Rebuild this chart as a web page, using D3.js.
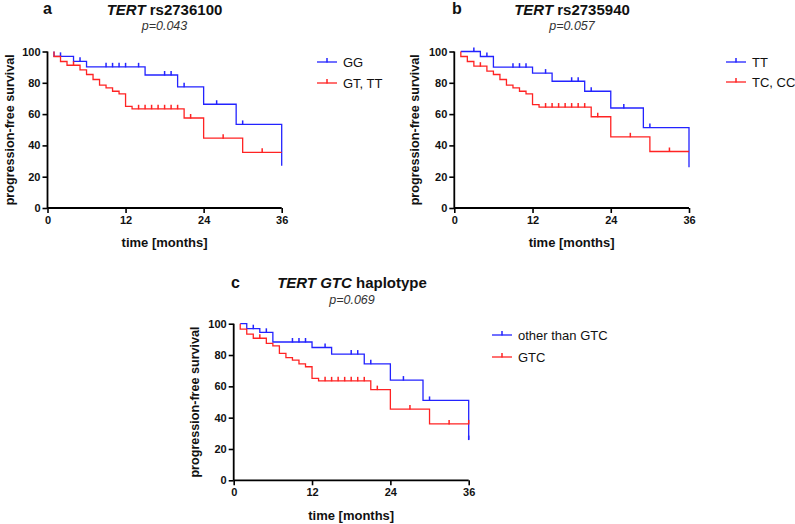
<!DOCTYPE html>
<html>
<head>
<meta charset="utf-8">
<script src="https://cdn.jsdelivr.net/npm/d3@7"></script>
<style>
  html, body { margin: 0; padding: 0; background: #fff; }
  text { font-family: "Liberation Sans", Arial, sans-serif; }
</style>
</head>
<body>
<svg id="chart" width="795" height="524"></svg>
<script>
// ---------- data ----------
const timeTicks = [0, 12, 24, 36];
const survTicks = [0, 20, 40, 60, 80, 100];
const startTime = 1;
const endTime = 36;

// Panel a: TERT rs2736100
const aBlueLabel = "GG";
const aBlueEventT = [1, 4, 6, 15, 20, 24, 29, 36];
const aBlueEventS = [96.9, 93.7, 90.2, 85.0, 77.4, 66.3, 53.4, 27.0];
const aBlueCensT = [2, 5, 9, 10, 11, 12, 14, 18, 19, 21, 26, 30];
const aRedLabel = "GT, TT";
const aRedEventT = [1, 2, 3, 5, 6, 7, 8, 9, 10, 11, 12, 13, 21, 24, 30];
const aRedEventS = [96.8, 93.6, 91.2, 88.3, 85.3, 82.1, 78.5, 76.8, 74.6, 72.9, 65.0, 63.4, 57.5, 44.6, 35.6];
const aRedCensT = [4, 14, 15, 16, 17, 18, 19, 20, 22, 27, 33];

// Panel b: TERT rs2735940
const bBlueLabel = "TT";
const bBlueEventT = [4, 6, 12, 15, 20, 24, 29, 36];
const bBlueEventS = [96.8, 90.0, 86.2, 81.0, 74.6, 63.9, 51.4, 26.0];
const bBlueCensT = [3, 5, 9, 10, 11, 14, 18, 19, 21, 26, 30];
const bRedLabel = "TC, CC";
const bRedEventT = [1, 2, 3, 5, 6, 7, 8, 9, 10, 11, 12, 13, 21, 24, 30];
const bRedEventS = [96.8, 93.6, 90.6, 87.4, 85.3, 82.1, 78.5, 76.8, 74.6, 72.9, 66.1, 64.5, 58.3, 45.5, 36.1];
const bRedCensT = [4, 14, 15, 16, 17, 18, 19, 20, 22, 27, 33];

// Panel c: TERT GTC haplotype
const cBlueLabel = "other than GTC";
const cBlueEventT = [2, 4, 6, 12, 15, 20, 24, 29, 36];
const cBlueEventS = [96.8, 94.5, 88.3, 84.8, 80.6, 74.4, 64.0, 51.0, 26.0];
const cBlueCensT = [3, 5, 9, 10, 11, 14, 18, 19, 21, 26, 30, 36];
const cRedLabel = "GTC";
const cRedEventT = [1, 2, 3, 5, 6, 7, 8, 9, 10, 11, 12, 13, 21, 24, 30];
const cRedEventS = [96.5, 93.4, 90.7, 87.5, 85.8, 81.1, 78.3, 76.8, 74.3, 72.5, 65.1, 63.5, 57.9, 45.5, 36.0];
const cRedCensT = [4, 14, 15, 16, 17, 18, 19, 20, 22, 27, 33, 36];

const panelLetters = ["a", "b", "c"];
const titleItalic = ["TERT", "TERT", "TERT GTC"];
const titleRest = [" rs2736100", " rs2735940", " haplotype"];
const pValues = ["p=0.043", "p=0.057", "p=0.069"];
const xLabel = "time [months]";
const yLabel = "progression-free survival";

// ---------- styles / layout ----------
const BLUE = "#2323ff";
const RED = "#ff2323";

const panels = [
  { x0: 47.5, x1: 281.7, y0: 208, y1: 51.5, letter: panelLetters[0], ti: titleItalic[0], tr: titleRest[0], p: pValues[0],
    letterX: 43, letterY: 14, titleCX: 164.5, titleY: 15, pY: 30, yLabX: 14, xLabY: 247, legX: 317, legY: [62, 83],
    series: [
      { label: aBlueLabel, color: BLUE, et: aBlueEventT, es: aBlueEventS, ct: aBlueCensT },
      { label: aRedLabel, color: RED, et: aRedEventT, es: aRedEventS, ct: aRedCensT } ] },
  { x0: 454.3, x1: 689, y0: 208, y1: 51.5, letter: panelLetters[1], ti: titleItalic[1], tr: titleRest[1], p: pValues[1],
    letterX: 452, letterY: 14, titleCX: 572, titleY: 15, pY: 30, yLabX: 419, xLabY: 247, legX: 726, legY: [62, 82],
    series: [
      { label: bBlueLabel, color: BLUE, et: bBlueEventT, es: bBlueEventS, ct: bBlueCensT },
      { label: bRedLabel, color: RED, et: bRedEventT, es: bRedEventS, ct: bRedCensT } ] },
  { x0: 233.7, x1: 468.7, y0: 480.3, y1: 323.7, letter: panelLetters[2], ti: titleItalic[2], tr: titleRest[2], p: pValues[2],
    letterX: 231, letterY: 288, titleCX: 352, titleY: 288, pY: 304, yLabX: 199, xLabY: 520, legX: 492, legY: [335, 357],
    series: [
      { label: cBlueLabel, color: BLUE, et: cBlueEventT, es: cBlueEventS, ct: cBlueCensT },
      { label: cRedLabel, color: RED, et: cRedEventT, es: cRedEventS, ct: cRedCensT } ] }
];

const svg = d3.select("#chart");

function stepValue(et, es, t) {
  let v = 100;
  for (let i = 0; i < et.length; i++) { if (et[i] <= t) v = es[i]; }
  return v;
}

panels.forEach(P => {
  const g = svg.append("g");
  const x = d3.scaleLinear().domain([0, 36]).range([P.x0, P.x1]);
  const y = d3.scaleLinear().domain([0, 100]).range([P.y0, P.y1]);

  // axes
  const xAxis = d3.axisBottom(x).tickValues(timeTicks).tickSize(5).tickPadding(3);
  const yAxis = d3.axisLeft(y).tickValues(survTicks).tickSize(5).tickPadding(2);
  const gx = g.append("g").attr("transform", `translate(0,${P.y0})`).call(xAxis);
  const gy = g.append("g").attr("transform", `translate(${P.x0},0)`).call(yAxis);
  [gx, gy].forEach(a => {
    a.select(".domain").attr("stroke", "#000").attr("stroke-width", 1.8);
    a.selectAll(".tick line").attr("stroke", "#000").attr("stroke-width", 1.6);
    a.selectAll(".tick text").attr("fill", "#111").attr("font-weight", "bold").attr("font-size", 11)
      .style("font-family", '"Liberation Sans", Arial, sans-serif');
  });
  gx.select(".domain").attr("d", `M${P.x0},0H${P.x1}`);
  gy.select(".domain").attr("d", `M0,${P.y0}V${P.y1}`);

  // axis labels
  g.append("text").attr("x", (P.x0 + P.x1) / 2).attr("y", P.xLabY)
    .attr("text-anchor", "middle").attr("font-weight", "bold").attr("font-size", 13).attr("fill", "#111").text(xLabel);
  g.append("text").attr("transform", `translate(${P.yLabX},${(P.y0 + P.y1) / 2}) rotate(-90)`)
    .attr("text-anchor", "middle").attr("font-weight", "bold").attr("font-size", 12.6).attr("fill", "#111").text(yLabel);

  // panel letter, title, p
  g.append("text").attr("x", P.letterX).attr("y", P.letterY).attr("font-weight", "bold").attr("font-size", 16)
    .attr("fill", "#111").text(P.letter);
  const t = g.append("text").attr("x", P.titleCX).attr("y", P.titleY).attr("text-anchor", "middle")
    .attr("font-weight", "bold").attr("font-size", 15).attr("fill", "#111");
  t.append("tspan").attr("font-style", "italic").text(P.ti);
  t.append("tspan").text(P.tr);
  g.append("text").attr("x", P.titleCX).attr("y", P.pY).attr("text-anchor", "middle")
    .attr("font-style", "italic").attr("font-size", 12.5).attr("fill", "#333").text(P.p);

  // curves
  P.series.forEach(S => {
    const pts = [[startTime, 100]];
    let cur = 100;
    S.et.forEach((tt, i) => { pts.push([tt, cur]); pts.push([tt, S.es[i]]); cur = S.es[i]; });
    if (S.et[S.et.length - 1] < endTime) pts.push([endTime, cur]);
    const line = d3.line().x(d => x(d[0])).y(d => y(d[1]));
    g.append("path").attr("d", line(pts)).attr("fill", "none").attr("stroke", S.color).attr("stroke-width", 1.3);
    g.selectAll(null).data(S.ct).enter().append("line")
      .attr("x1", d => x(d)).attr("x2", d => x(d))
      .attr("y1", d => y(stepValue(S.et, S.es, d)) + 0.5)
      .attr("y2", d => y(stepValue(S.et, S.es, d)) - 4)
      .attr("stroke", S.color).attr("stroke-width", 1.5);
  });

  // legend
  P.series.forEach((S, i) => {
    const ly = P.legY[i];
    g.append("line").attr("x1", P.legX).attr("x2", P.legX + 20).attr("y1", ly).attr("y2", ly)
      .attr("stroke", S.color).attr("stroke-width", 1.3);
    g.append("line").attr("x1", P.legX + 10).attr("x2", P.legX + 10).attr("y1", ly + 0.5).attr("y2", ly - 4)
      .attr("stroke", S.color).attr("stroke-width", 1.5);
    g.append("text").attr("x", P.legX + 26).attr("y", ly + 4.5).attr("font-size", 13).attr("fill", "#111").text(S.label);
  });
});
</script>
</body>
</html>
